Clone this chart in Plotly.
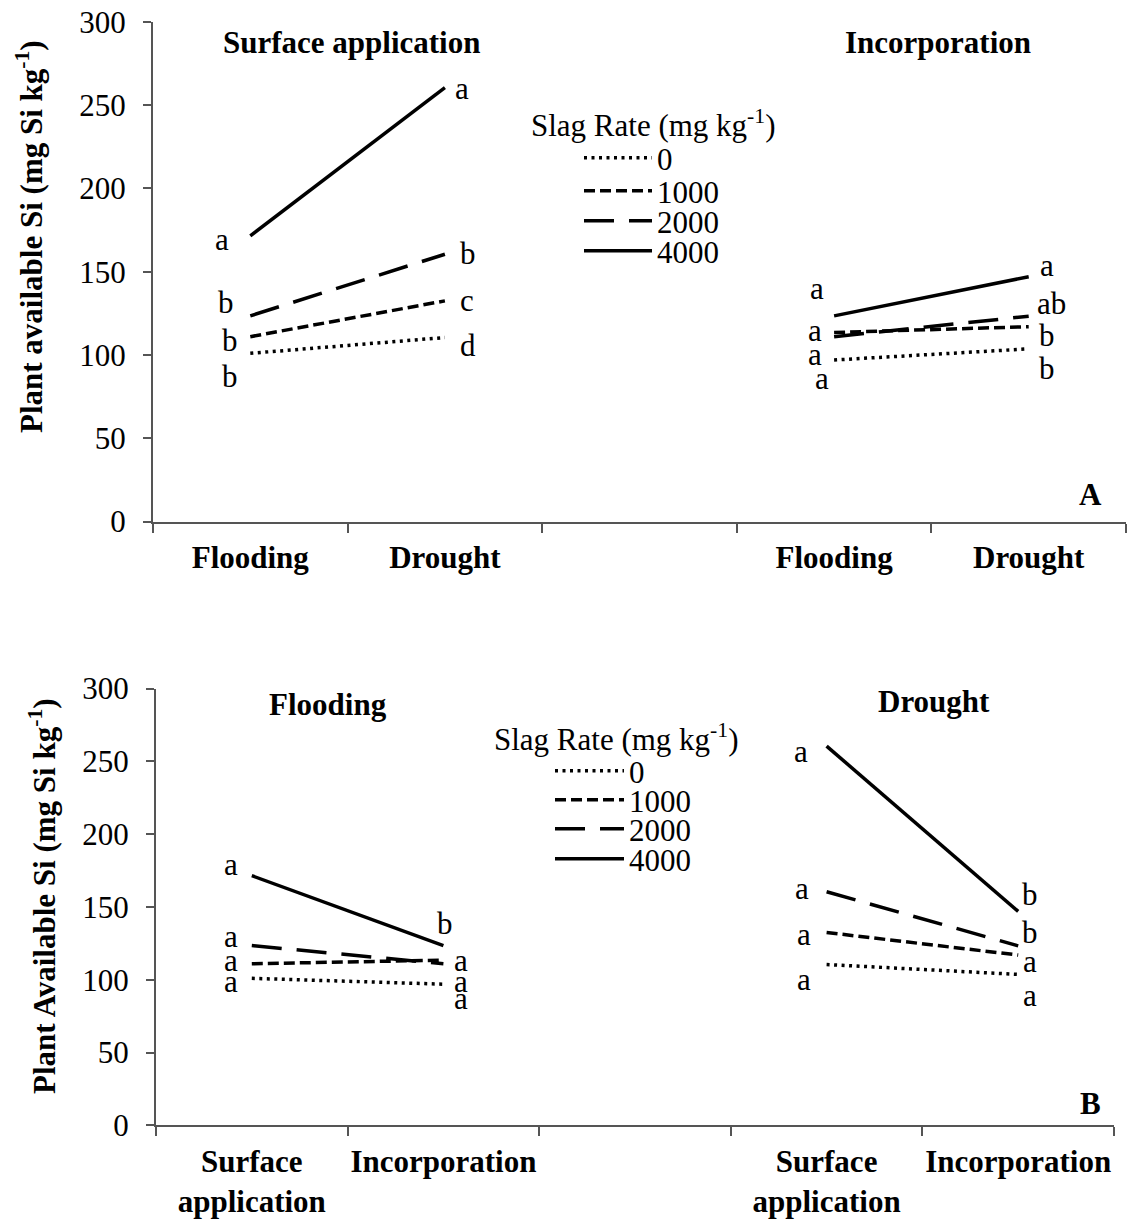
import plotly.graph_objects as go

W, H = 1127, 1220
FONT = "Liberation Serif, Times New Roman, serif"
FS = 31

# Slag rates (mg kg-1)
rates = ["0", "1000", "2000", "4000"]

# Plant available Si (mg Si kg-1), one value per slag rate
surface_flooding = [101, 111, 123.5, 171.5]
surface_drought = [110.5, 132.5, 160.5, 260.5]
incorp_flooding = [97, 113.5, 111, 123.5]
incorp_drought = [103.7, 117, 123.3, 147]

# Mean separation letters, one per slag rate
a_surface_flooding = ["b", "b", "b", "a"]
a_surface_drought = ["d", "c", "b", "a"]
a_incorp_flooding = ["a", "a", "a", "a"]
a_incorp_drought = ["b", "b", "ab", "a"]
b_flooding_surface = ["a", "a", "a", "a"]
b_flooding_incorp = ["a", "a", "a", "b"]
b_drought_surface = ["a", "a", "a", "a"]
b_drought_incorp = ["a", "a", "b", "b"]

moisture_ticks = ["Flooding", "Drought"]
method_ticks = ["Surface<br>application", "Incorporation"]
panel_a_headers = ["Surface application", "Incorporation"]
panel_b_headers = ["Flooding", "Drought"]

# line style for each slag rate
DASH = {"0": "3px,4.5px", "1000": "11px,5px", "2000": "30px,15px", "4000": "solid"}


def px(x):
    return x / W


def py(y):
    return 1 - y / H


fig = go.Figure()

# ---- panel A: moisture on the x axis, grouped by application method ----
panel_a = [((0, 1), surface_flooding, surface_drought),
           ((3, 4), incorp_flooding, incorp_drought)]
# ---- panel B: application method on the x axis, grouped by moisture ----
panel_b = [((0, 1), surface_flooding, incorp_flooding),
           ((3, 4), surface_drought, incorp_drought)]

legend_no = 1
for axes, groups in (("x", panel_a), ("x2", panel_b)):
    yax = "y" if axes == "x" else "y2"
    for i, rate in enumerate(rates):
        lg = "legend" if legend_no == 1 else f"legend{legend_no}"
        for g, (slots, first, second) in enumerate(groups):
            fig.add_trace(go.Scatter(
                x=list(slots), y=[first[i], second[i]],
                mode="lines", name=rate,
                line=dict(color="black", width=3.5, dash=DASH[rate]),
                xaxis=axes, yaxis=yax, legend=lg,
                showlegend=(g == 0), hoverinfo="skip"))
        legend_no += 1

# significance letters: (axis, slot, letters, label heights, horizontal shift px)
letter_groups = [
    ("x", "y", 0, a_surface_flooding, [86.8, 108.6, 131.8, 169.5], [-20, -20, -24, -28]),
    ("x", "y", 1, a_surface_drought, [105.4, 133, 161.2, 259.7], [23, 22, 23, 17]),
    ("x", "y", 3, a_incorp_flooding, [86, 100, 115, 140], [-12, -19, -19, -17]),
    ("x", "y", 4, a_incorp_drought, [92, 112, 131, 154], [18, 18, 23, 18]),
    ("x2", "y2", 0, b_flooding_surface, [98.7, 113.6, 129.6, 179.5], [-21, -21, -21, -21]),
    ("x2", "y2", 1, b_flooding_incorp, [87.5, 98.7, 113.6, 139], [18, 18, 18, 2]),
    ("x2", "y2", 3, b_drought_surface, [99.9, 130.8, 162.6, 257], [-23, -23, -25, -26]),
    ("x2", "y2", 4, b_drought_incorp, [88.9, 112.3, 132.2, 158.9], [12, 12, 12, 12]),
]
annotations = []
for xr, yr, slot, letters, ys, shifts in letter_groups:
    for letter, yv, sh in zip(letters, ys, shifts):
        annotations.append(dict(x=slot, y=yv, xref=xr, yref=yr, text=letter,
                                showarrow=False, xshift=sh,
                                xanchor="center", yanchor="middle",
                                font=dict(family=FONT, size=FS, color="black")))


def text(x, y, s, bold=False, angle=0, anchor="center"):
    annotations.append(dict(x=px(x), y=py(y), xref="paper", yref="paper",
                            text=f"<b>{s}</b>" if bold else s, showarrow=False,
                            textangle=angle, xanchor=anchor, yanchor="middle",
                            font=dict(family=FONT, size=FS, color="black")))


text(351, 42, panel_a_headers[0], bold=True)
text(938, 42, panel_a_headers[1], bold=True)
text(328, 704, panel_b_headers[0], bold=True)
text(934, 701, panel_b_headers[1], bold=True)
text(1090, 494, "A", bold=True)
text(1090, 1103, "B", bold=True)
text(29, 237, "Plant available Si (mg Si kg<sup>-1</sup>)", bold=True, angle=-90)
text(42, 896, "Plant Available Si (mg Si kg<sup>-1</sup>)", bold=True, angle=-90)
text(529, 124, "Slag Rate (mg kg<sup>-1</sup>)", anchor="left")
text(492, 737, "Slag Rate (mg kg<sup>-1</sup>)", anchor="left")

# one legend per entry so the rows keep the tight spacing of the key;
# (text left edge, row centre, sample length) in pixels
legend_rows = [(657, 158, 68), (657, 191, 68), (657, 221, 68), (657, 251, 68),
               (629, 771, 69), (629, 800, 69), (629, 829, 69), (629, 859, 69)]
legends = {}
for k, (lx, ly, iw) in enumerate(legend_rows, start=1):
    key = "legend" if k == 1 else f"legend{k}"
    legends[key] = dict(x=px(lx - iw - 10), y=py(ly), xanchor="left", yanchor="middle",
                        itemwidth=iw, bgcolor="rgba(0,0,0,0)", borderwidth=0,
                        font=dict(family=FONT, size=FS, color="black"))

AX_COLOR = "#555555"
common_x = dict(range=[-0.5, 4.5], showgrid=False, zeroline=False, automargin=False,
                showline=True, linecolor=AX_COLOR, linewidth=2,
                tickmode="array", tickvals=[0, 1, 3, 4], ticks="",
                ticklabelstandoff=7,
                tickfont=dict(family=FONT, size=FS, color="black"),
                minor=dict(tickmode="array", tickvals=[-0.5, 0.5, 1.5, 2.5, 3.5, 4.5],
                           ticks="outside", ticklen=9, tickwidth=2, tickcolor=AX_COLOR),
                fixedrange=True)
common_y = dict(range=[0, 300], tickvals=[0, 50, 100, 150, 200, 250, 300],
                showgrid=False, zeroline=False, showline=True, automargin=False,
                linecolor=AX_COLOR, linewidth=2, ticks="outside", ticklen=8,
                tickwidth=2, tickcolor=AX_COLOR, ticklabelstandoff=11,
                tickfont=dict(family=FONT, size=FS, color="black"), fixedrange=True)

fig.update_layout(
    width=W, height=H, margin=dict(l=0, r=0, t=0, b=0, autoexpand=False),
    paper_bgcolor="white", plot_bgcolor="white",
    xaxis=dict(common_x, domain=[px(153), px(1126)], anchor="y",
               ticktext=[f"<b>{t}</b>" for t in moisture_ticks * 2]),
    yaxis=dict(common_y, domain=[py(521.6), py(21.8)], anchor="x"),
    xaxis2=dict(common_x, domain=[px(156), px(1114)], anchor="y2",
                ticktext=[f"<b>{t}</b>" for t in method_ticks * 2]),
    yaxis2=dict(common_y, domain=[py(1125.4), py(688.6)], anchor="x2"),
    annotations=annotations,
    **legends,
)

fig.write_html("out.html")
